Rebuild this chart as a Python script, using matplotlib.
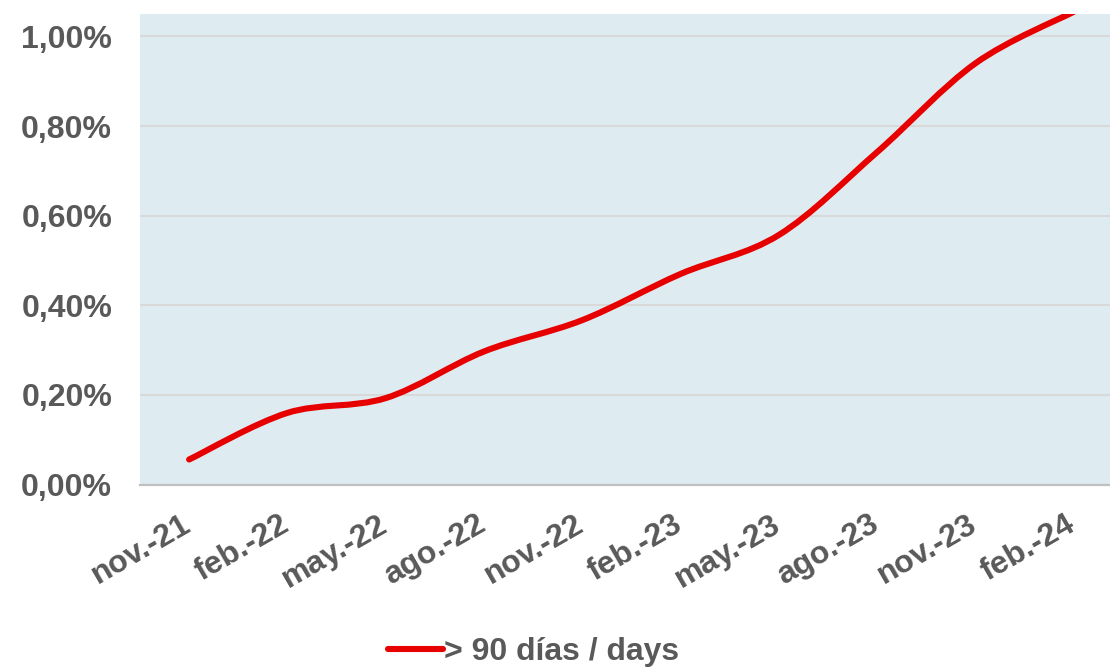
import numpy as np
import matplotlib
matplotlib.use('Agg')
import matplotlib.pyplot as plt
import matplotlib.transforms as mtransforms
from matplotlib.path import Path
from matplotlib.patches import PathPatch
from matplotlib.lines import Line2D
from matplotlib.ticker import FuncFormatter

plt.rcParams['font.family'] = ['Liberation Sans', 'DejaVu Sans']

# datos trimestrales
meses = ['nov.-21', 'feb.-22', 'may.-22', 'ago.-22', 'nov.-22',
         'feb.-23', 'may.-23', 'ago.-23', 'nov.-23', 'feb.-24']
mora_90 = [0.056, 0.160, 0.193, 0.297, 0.367,
           0.470, 0.557, 0.742, 0.940, 1.055]
serie = '> 90 días / days'
y_ticks = [0.0, 0.2, 0.4, 0.6, 0.8, 1.0]

rojo = '#e60000'
gris = '#595959'

fig = plt.figure(figsize=(11.10, 6.71), dpi=100)
ax = fig.add_axes([0.1261, 0.2778, 0.8856, 0.7014])
ax.set_facecolor('#deebf1')

# linea suavizada (bezier tipo Excel) a partir de los puntos
pts = np.column_stack([np.arange(len(mora_90)), mora_90]).astype(float)
n = len(pts)
verts = [tuple(pts[0])]
codes = [Path.MOVETO]
for i in range(n - 1):
    p0 = pts[max(i - 1, 0)]
    p1 = pts[i]
    p2 = pts[i + 1]
    p3 = pts[min(i + 2, n - 1)]
    c1 = p1 + (p2 - p0) / 6.0
    c2 = p2 - (p3 - p1) / 6.0
    verts += [tuple(c1), tuple(c2), tuple(p2)]
    codes += [Path.CURVE4] * 3
ax.add_patch(PathPatch(Path(verts, codes), fill=False, edgecolor=rojo,
                       lw=4.4, capstyle='round', joinstyle='round', zorder=3))

ax.set_xlim(-0.5, len(meses) - 0.5)
ax.set_ylim(0, 1.050)
ax.set_yticks(y_ticks)
ax.yaxis.set_major_formatter(FuncFormatter(lambda v, p: ('%.2f%%' % v).replace('.', ',')))
ax.set_xticks(range(len(meses)))
ax.set_xticklabels(meses, rotation=30, ha='right')

ax.grid(axis='y', color='#d9d9d9', lw=1.5)
ax.set_axisbelow(True)
for s in ['top', 'right', 'left']:
    ax.spines[s].set_visible(False)
ax.spines['bottom'].set_color('#c0c0c0')
ax.spines['bottom'].set_linewidth(1.6)

ax.tick_params(axis='y', length=0, pad=20, labelsize=23, labelcolor=gris)
ax.tick_params(axis='x', length=0, pad=18, labelsize=23, labelcolor=gris)
desplaza = mtransforms.ScaledTranslation(5 / 72, 0, fig.dpi_scale_trans)
for t in ax.get_xticklabels():
    t.set_transform(t.get_transform() + desplaza)
for t in ax.get_xticklabels() + ax.get_yticklabels():
    t.set_fontweight('bold')

h = Line2D([], [], color=rojo, lw=4.4, solid_capstyle='round')
leg = fig.legend([h], [serie], loc='center', bbox_to_anchor=(0.481, 0.028),
                 frameon=False, handlelength=1.7, handletextpad=0.05,
                 prop={'size': 23, 'weight': 'bold'})
for t in leg.get_texts():
    t.set_color(gris)

fig.savefig('out.png', dpi=100)
